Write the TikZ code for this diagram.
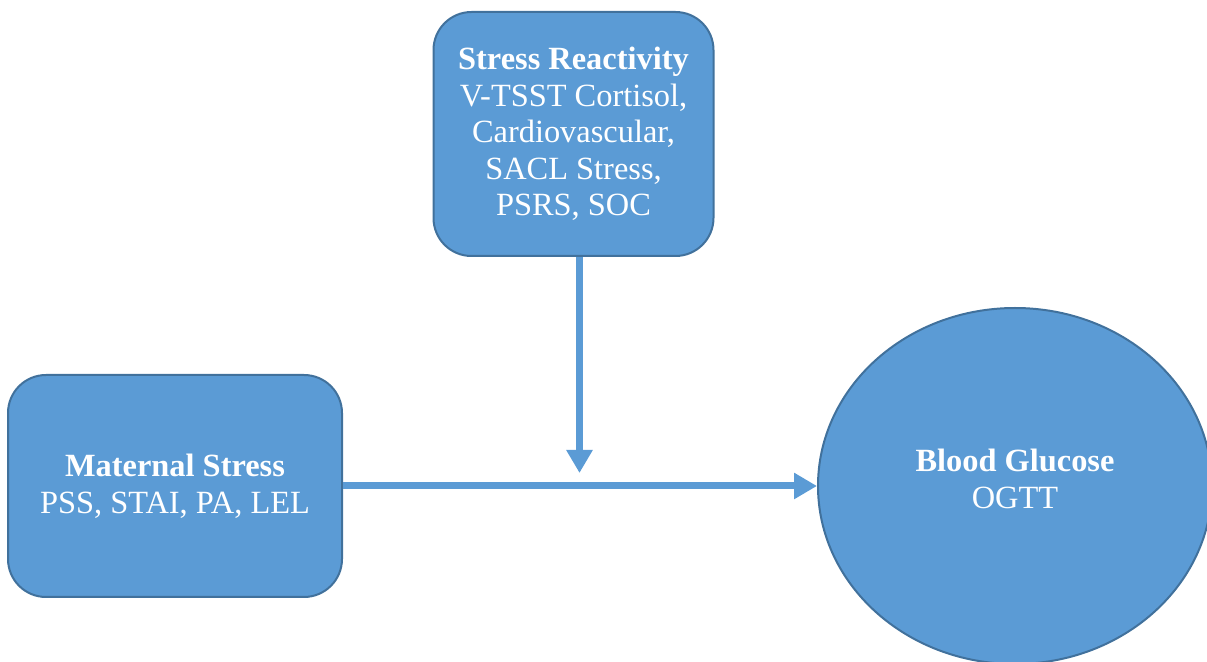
\documentclass[tikz,border=0pt]{standalone}
\usepackage{fontspec}
\setmainfont{Liberation Serif}
\usetikzlibrary{shapes.geometric,arrows.meta}
\definecolor{fillblue}{HTML}{5B9BD5}
\definecolor{edgeblue}{HTML}{41719C}

\begin{document}
\begin{tikzpicture}[
			x=0.5pt, y=-0.5pt
			,every node/.append style={fill=fillblue, draw=edgeblue, line width=1pt, text=white, align=center, inner sep=0pt, font=\fontsize{16.2}{18.3}\selectfont}
			,box/.style={rectangle, rounded corners=19pt}
			,oval/.style={ellipse, minimum width=197pt, minimum height=178pt, text depth=7pt}
			,link/.style={draw=fillblue, line width=3.5pt, -{Triangle[length=11.5pt,width=12.5pt]}}
		]
			\useasboundingbox (0,0) rectangle (1207,662);
			\node [box, minimum width=167pt, minimum height=111pt] (MS) at (175,486)
				{\textbf{Maternal Stress}\\PSS, STAI, PA, LEL};
			\node [box, minimum width=140pt, minimum height=122pt] (SR) at (573.5,134)
				{\textbf{Stress Reactivity}\\V-TSST Cortisol,\\Cardiovascular,\\SACL Stress,\\PSRS, SOC};
			\node [oval] (BG) at (1015,486) {\textbf{Blood Glucose}\\OGTT};
			\coordinate (tip) at (579.5,473);
			\draw [link] (MS.east) -- (BG.west);
			\draw [link] (SR.south -| tip) -- (tip);
		\end{tikzpicture}
\end{document}
